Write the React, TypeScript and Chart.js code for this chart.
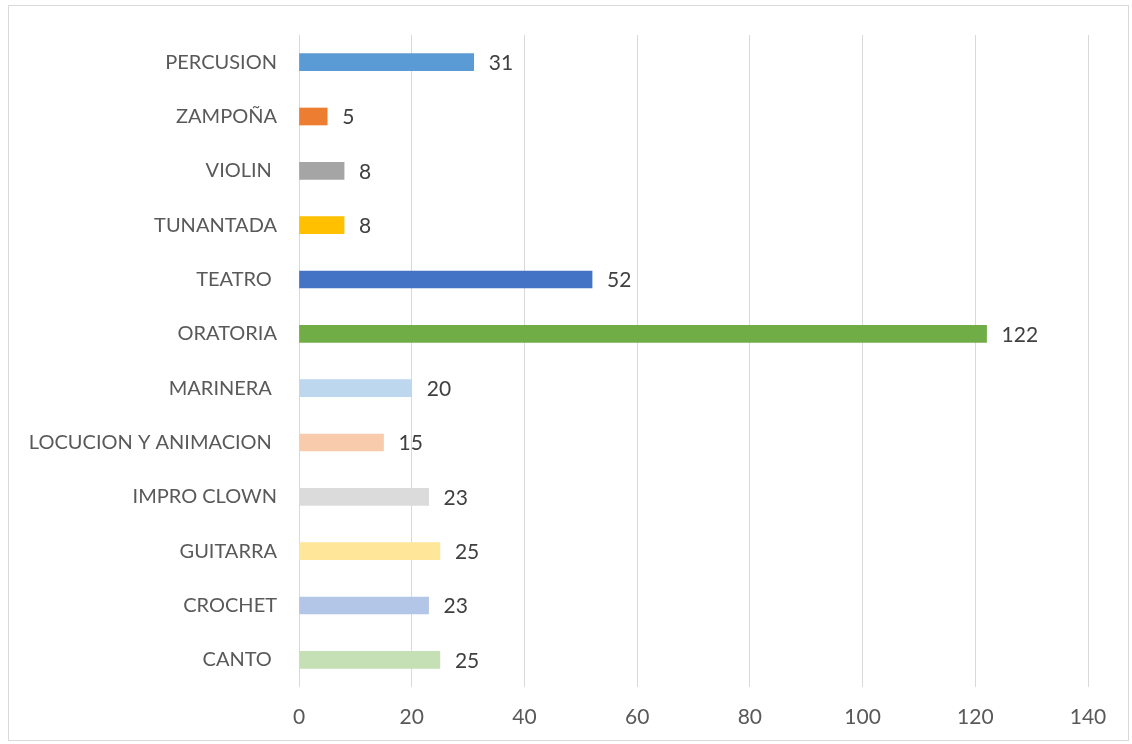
import React, { useEffect, useRef } from "react";
import { Chart, registerables } from "chart.js";

Chart.register(...registerables);

const categories = [
  "PERCUSION",
  "ZAMPOÑA",
  "VIOLIN ",
  "TUNANTADA",
  "TEATRO ",
  "ORATORIA",
  "MARINERA ",
  "LOCUCION Y ANIMACION ",
  "IMPRO CLOWN",
  "GUITARRA",
  "CROCHET",
  "CANTO ",
];

const values = [31, 5, 8, 8, 52, 122, 20, 15, 23, 25, 23, 25];

const barColors = [
  "#5B9BD5",
  "#ED7D31",
  "#A5A5A5",
  "#FFC000",
  "#4472C4",
  "#70AD47",
  "#BDD7EE",
  "#F8CBAD",
  "#DBDBDB",
  "#FFE699",
  "#B4C6E7",
  "#C5E0B4",
];

const xMin = 0;
const xMax = 140;
const xStep = 20;

const FONT = "Lato, 'Open Sans', sans-serif";

const valueLabelPlugin = {
  id: "valueLabels",
  afterDatasetsDraw(chart: any) {
    const ctx = chart.ctx;
    const meta = chart.getDatasetMeta(0);
    ctx.save();
    ctx.font = `21px ${FONT}`;
    ctx.fillStyle = "#404040";
    ctx.textAlign = "left";
    ctx.textBaseline = "middle";
    meta.data.forEach((bar: any, i: number) => {
      const v = chart.data.datasets[0].data[i];
      ctx.fillText(String(v), bar.x + 15, bar.y + 1);
    });
    ctx.restore();
  },
};

export default function App() {
  const canvasRef = useRef<HTMLCanvasElement | null>(null);

  useEffect(() => {
    if (!canvasRef.current) return;
    const chart = new Chart(canvasRef.current, {
      type: "bar",
      data: {
        labels: categories,
        datasets: [
          {
            data: values,
            backgroundColor: barColors,
            borderWidth: 0,
            barThickness: 17,
          },
        ],
      },
      options: {
        indexAxis: "y",
        animation: false,
        responsive: false,
        maintainAspectRatio: false,
        layout: { padding: { left: 0, right: 44, top: 35, bottom: 0 } },
        plugins: {
          legend: { display: false },
          tooltip: { enabled: false },
        },
        scales: {
          x: {
            min: xMin,
            max: xMax,
            ticks: {
              stepSize: xStep,
              color: "#595959",
              font: { family: FONT, size: 21 },
              padding: 18,
            },
            grid: { color: "#D9D9D9", lineWidth: 1, drawTicks: false },
            border: { display: false },
            afterFit(scale: any) {
              scale.height = 57;
            },
          },
          y: {
            ticks: {
              color: "#595959",
              font: { family: FONT, size: 20 },
              padding: 22,
            },
            grid: { display: false, drawTicks: false },
            border: { display: false },
            afterFit(scale: any) {
              scale.width = 299;
            },
          },
        },
      },
      plugins: [valueLabelPlugin],
    });
    return () => chart.destroy();
  }, []);

  return (
    <div
      style={{
        position: "fixed",
        left: 0,
        top: 0,
        width: 1132,
        height: 744,
        background: "#ffffff",
      }}
    >
      <div
        style={{
          position: "absolute",
          left: 8,
          top: 5,
          width: 1121,
          height: 736,
          border: "1px solid #D9D9D9",
          boxSizing: "border-box",
        }}
      />
      <canvas
        ref={canvasRef}
        width={1132}
        height={744}
        style={{ position: "absolute", left: 0, top: 0, width: 1132, height: 744 }}
      />
    </div>
  );
}
